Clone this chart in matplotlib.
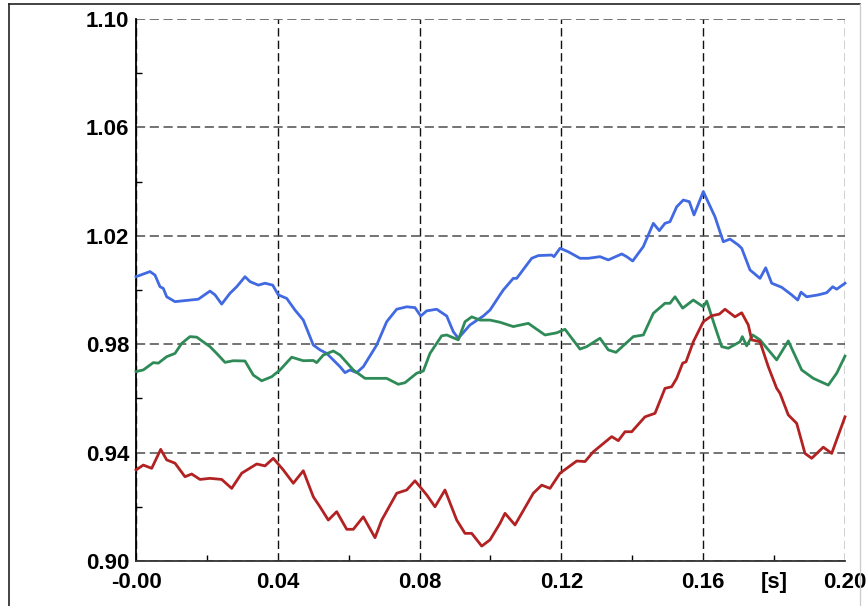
import matplotlib
matplotlib.use('Agg')
import matplotlib.pyplot as plt
from matplotlib.lines import Line2D
from matplotlib.ticker import MultipleLocator
import matplotlib.transforms as mtransforms

# blue trace
t_blue = [0.000, 0.00395, 0.00536, 0.00677, 0.0077, 0.00866, 0.011, 0.01241, 0.01757, 0.02087,
          0.02229, 0.02417, 0.02652, 0.0284, 0.03075, 0.03216, 0.0345, 0.03639, 0.03856, 0.04014,
          0.04251, 0.04485, 0.04719, 0.05001, 0.0519, 0.0538, 0.05755, 0.05896, 0.06037, 0.06226,
          0.06412, 0.0679, 0.07072, 0.07354, 0.07636, 0.0787, 0.08031, 0.082, 0.08482, 0.08765,
          0.08951, 0.09092, 0.09422, 0.09797, 0.09986, 0.10268, 0.10361, 0.10643, 0.10739, 0.11162,
          0.11349, 0.11727, 0.11791, 0.11961, 0.12195, 0.12525, 0.12759, 0.13089, 0.13323, 0.13701,
          0.13842, 0.14011, 0.1431, 0.14593, 0.14762, 0.14922, 0.15063, 0.15252, 0.15439, 0.15608,
          0.15741, 0.16003, 0.16333, 0.16567, 0.16756, 0.1699, 0.17086, 0.1732, 0.17602, 0.17763,
          0.17932, 0.18214, 0.18496, 0.18666, 0.18759, 0.18919, 0.19247, 0.19484, 0.19653, 0.19766,
          0.200]
v_blue = [1.0049, 1.0068, 1.0055, 1.0012, 1.0006, 0.9975, 0.9957, 0.9959, 0.9966, 0.9996,
          0.9982, 0.9948, 0.9988, 1.0012, 1.0049, 1.0031, 1.0018, 1.0025, 1.0018, 0.9982,
          0.9969, 0.9926, 0.9889, 0.9797, 0.9779, 0.9766, 0.9717, 0.9695, 0.9705, 0.9695,
          0.9717, 0.9797, 0.9883, 0.9929, 0.9938, 0.9935, 0.9904, 0.9923, 0.9929, 0.9904,
          0.9846, 0.9822, 0.9871, 0.9904, 0.9926, 0.9982, 1.0000, 1.0043, 1.0043, 1.0117,
          1.0127, 1.0129, 1.0123, 1.0154, 1.0141, 1.0117, 1.0117, 1.0123, 1.0111, 1.0133,
          1.0123, 1.0107, 1.0160, 1.0246, 1.0219, 1.0246, 1.0252, 1.0307, 1.0332, 1.0326,
          1.0277, 1.0363, 1.0270, 1.0178, 1.0188, 1.0166, 1.0154, 1.0074, 1.0043, 1.0082,
          1.0025, 1.0010, 0.9982, 0.9963, 0.9992, 0.9975, 0.9982, 0.9990, 1.0012, 1.0003,
          1.0025]

# green trace
t_green = [0.000, 0.00206, 0.00488, 0.00629, 0.00866, 0.011, 0.01289, 0.01523, 0.01712, 0.02087,
           0.02276, 0.02511, 0.02745, 0.03075, 0.03309, 0.03546, 0.03828, 0.04062, 0.04392, 0.04719,
           0.05001, 0.05097, 0.05284, 0.05566, 0.05755, 0.0613, 0.0646, 0.07072, 0.074, 0.07588,
           0.07918, 0.08104, 0.08293, 0.08623, 0.08765, 0.09092, 0.09281, 0.0947, 0.09704, 0.09986,
           0.10268, 0.10643, 0.11066, 0.11537, 0.11868, 0.12102, 0.12525, 0.12714, 0.13089, 0.13323,
           0.1354, 0.14028, 0.14311, 0.14593, 0.14922, 0.15063, 0.15205, 0.15421, 0.15721, 0.16003,
           0.16099, 0.16333, 0.16522, 0.16708, 0.17038, 0.17103, 0.17227, 0.17396, 0.17602, 0.18073,
           0.184, 0.18778, 0.19106, 0.19529, 0.19766, 0.200]
v_green = [0.9699, 0.9705, 0.9732, 0.9730, 0.9754, 0.9766, 0.9803, 0.9828, 0.9826, 0.9791,
           0.9766, 0.9733, 0.9739, 0.9738, 0.9686, 0.9665, 0.9680, 0.9705, 0.9752, 0.9739,
           0.9740, 0.9732, 0.9760, 0.9775, 0.9760, 0.9705, 0.9674, 0.9674, 0.9652, 0.9658,
           0.9693, 0.9701, 0.9766, 0.9831, 0.9834, 0.9816, 0.9883, 0.9901, 0.9889, 0.9889,
           0.9881, 0.9865, 0.9877, 0.9834, 0.9842, 0.9855, 0.9782, 0.9791, 0.9822, 0.9779,
           0.9770, 0.9828, 0.9834, 0.9914, 0.9951, 0.9951, 0.9975, 0.9933, 0.9963, 0.9938,
           0.9959, 0.9865, 0.9791, 0.9785, 0.9809, 0.9828, 0.9794, 0.9834, 0.9816, 0.9742,
           0.9812, 0.9705, 0.9674, 0.9649, 0.9693, 0.9756]

# red trace
t_red = [0.000, 0.00206, 0.00443, 0.00697, 0.00866, 0.011, 0.01382, 0.01571, 0.01805, 0.02087,
         0.02417, 0.027, 0.02982, 0.03405, 0.03639, 0.03873, 0.04155, 0.04437, 0.04719, 0.05001,
         0.0519, 0.05425, 0.05661, 0.05944, 0.0613, 0.06412, 0.06742, 0.06931, 0.07354, 0.07636,
         0.0787, 0.082, 0.08434, 0.08716, 0.09047, 0.09281, 0.0947, 0.09752, 0.09986, 0.10268,
         0.10409, 0.10691, 0.11207, 0.11445, 0.11678, 0.11961, 0.12432, 0.12666, 0.129, 0.13419,
         0.13605, 0.13794, 0.13983, 0.14358, 0.1464, 0.14922, 0.15111, 0.15252, 0.1542, 0.15515,
         0.15721, 0.16003, 0.1624, 0.16454, 0.16615, 0.16897, 0.17086, 0.17272, 0.17368, 0.17602,
         0.17836, 0.18073, 0.18166, 0.184, 0.18637, 0.18871, 0.1906, 0.19388, 0.19625, 0.200]
v_red = [0.9336, 0.9354, 0.9342, 0.9412, 0.9373, 0.9361, 0.9311, 0.9321, 0.9301, 0.9305,
         0.9301, 0.9268, 0.9324, 0.9358, 0.9351, 0.9379, 0.9336, 0.9287, 0.9333, 0.9237,
         0.9200, 0.9151, 0.9182, 0.9117, 0.9117, 0.9163, 0.9086, 0.9151, 0.9250, 0.9262,
         0.9296, 0.9244, 0.9200, 0.9262, 0.9151, 0.9102, 0.9102, 0.9055, 0.9078, 0.9139,
         0.9176, 0.9133, 0.9250, 0.9280, 0.9268, 0.9324, 0.9369, 0.9367, 0.9403, 0.9459,
         0.9444, 0.9477, 0.9477, 0.9532, 0.9545, 0.9637, 0.9643, 0.9674, 0.9730, 0.9735,
         0.9809, 0.9883, 0.9905, 0.9911, 0.9929, 0.9901, 0.9916, 0.9871, 0.9816, 0.9809,
         0.9717, 0.9637, 0.9619, 0.9539, 0.9508, 0.9397, 0.9379, 0.9420, 0.9397, 0.9532]

x_ticks = [0.00, 0.04, 0.08, 0.12, 0.16, 0.20]
x_labels = ['-0.00', '0.04', '0.08', '0.12', '0.16', '0.20']
y_ticks = [0.90, 0.94, 0.98, 1.02, 1.06, 1.10]
y_labels = ['0.90', '0.94', '0.98', '1.02', '1.06', '1.10']

plt.rcParams['font.family'] = ['Liberation Sans', 'DejaVu Sans']

fig = plt.figure(figsize=(8.67, 6.06), dpi=100)
ax = fig.add_axes([136/867, 1 - 561/606, (845 - 136)/867, (561 - 19)/606])

ax.plot(t_blue, v_blue, color='#4169E1', lw=2.0, zorder=3, clip_on=False)
ax.plot(t_green, v_green, color='#2E8B57', lw=2.0, zorder=3, clip_on=False)
ax.plot(t_red, v_red, color='#B22222', lw=2.0, zorder=3, clip_on=False)

ax.set_xlim(0, 0.20)
ax.set_ylim(0.90, 1.10)
ax.set_xticks(x_ticks)
ax.set_xticklabels(x_labels)
ax.set_yticks(y_ticks)
ax.set_yticklabels(y_labels)
ax.xaxis.set_minor_locator(MultipleLocator(0.02))
ax.yaxis.set_minor_locator(MultipleLocator(0.02))

ax.tick_params(which='major', length=0, labelsize=16, pad=8)
ax.tick_params(axis='y', which='major', pad=5)
ax.tick_params(which='minor', direction='in', length=4, width=1, color='black')
for lab in ax.get_xticklabels() + ax.get_yticklabels():
    lab.set_fontweight('bold')
    lab.set_clip_on(False)

ax.xaxis.grid(True, which='major', color='#111111', linestyle=(0, (6, 3)), lw=1.0)
ax.yaxis.grid(True, which='major', color='#4d4d4d', linestyle=(0, (6, 3)), lw=1.1)

for s in ['top', 'right']:
    ax.spines[s].set_visible(False)
ax.spines['left'].set_linewidth(1.3)
ax.spines['bottom'].set_linewidth(1.3)
ax.spines['bottom'].set_color('#333333')

trans = mtransforms.blended_transform_factory(ax.transData, ax.transAxes)
ax.text(0.18, -0.021, '[s]', transform=trans, ha='center', va='top',
        fontsize=16, fontweight='bold')

# outer frame
fig.add_artist(Line2D([9/867, 9/867], [0, 1 - 4/606], color='#222222', lw=1.2))
fig.add_artist(Line2D([9/867, 860/867], [1 - 4/606, 1 - 4/606], color='#222222', lw=1.2))
fig.add_artist(Line2D([860/867, 860/867], [0, 1 - 4/606], color='#cccccc', lw=1.0))

fig.savefig('out.png', dpi=100)
